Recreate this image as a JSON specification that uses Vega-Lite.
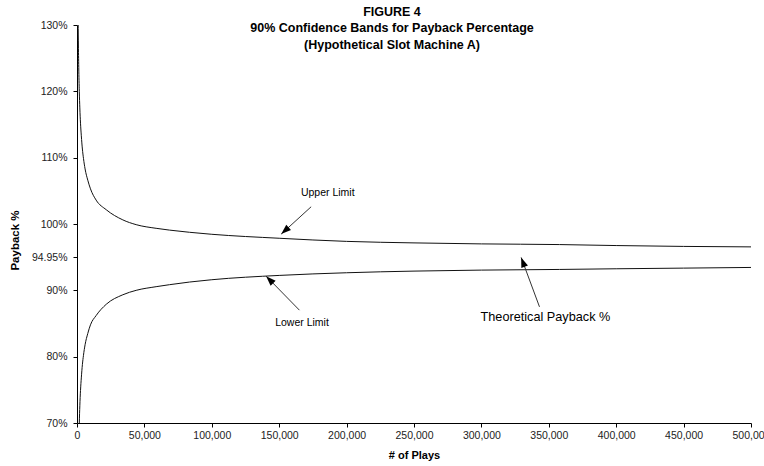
{
  "$schema": "https://vega.github.io/schema/vega-lite/v6.json",
  "autosize": {"type": "none"},
  "width": 674,
  "height": 398,
  "padding": {"left": 77, "top": 25, "right": 13, "bottom": 43},
  "background": "white",
  "title": {
    "text": ["FIGURE 4", "90% Confidence Bands for Payback Percentage", "(Hypothetical Slot Machine A)"],
    "anchor": "middle",
    "frame": "group",
    "dx": -22,
    "font": "Liberation Sans",
    "fontSize": 12.5,
    "fontWeight": "bold",
    "color": "black",
    "lineHeight": 16.5,
    "baseline": "alphabetic",
    "offset": -41
  },
  "datasets": {
    "curves": [
      {"n": 800, "upper": 131.5, "lower": 58.5},
      {"n": 1000, "upper": 127.6, "lower": 62.5},
      {"n": 1300, "upper": 123.6, "lower": 66.5},
      {"n": 1700, "upper": 120.0, "lower": 70.0},
      {"n": 2100, "upper": 117.5, "lower": 72.6},
      {"n": 2600, "upper": 115.2, "lower": 74.9},
      {"n": 3200, "upper": 113.3, "lower": 76.8},
      {"n": 4000, "upper": 111.3, "lower": 78.8},
      {"n": 4800, "upper": 109.9, "lower": 80.2},
      {"n": 6000, "upper": 108.3, "lower": 81.8},
      {"n": 8000, "upper": 106.6, "lower": 83.5},
      {"n": 10000, "upper": 105.3, "lower": 84.8},
      {"n": 14200, "upper": 103.6, "lower": 86.2},
      {"n": 21700, "upper": 102.15, "lower": 87.9},
      {"n": 34000, "upper": 100.62, "lower": 89.33},
      {"n": 43900, "upper": 99.9, "lower": 90.0},
      {"n": 58700, "upper": 99.35, "lower": 90.55},
      {"n": 68600, "upper": 99.08, "lower": 90.85},
      {"n": 83500, "upper": 98.75, "lower": 91.25},
      {"n": 100000, "upper": 98.45, "lower": 91.6},
      {"n": 150000, "upper": 97.85, "lower": 92.25},
      {"n": 200000, "upper": 97.38, "lower": 92.65},
      {"n": 250000, "upper": 97.15, "lower": 92.9},
      {"n": 300000, "upper": 97.0, "lower": 93.05},
      {"n": 358000, "upper": 96.9, "lower": 93.15},
      {"n": 400000, "upper": 96.75, "lower": 93.25},
      {"n": 450000, "upper": 96.62, "lower": 93.35},
      {"n": 500000, "upper": 96.55, "lower": 93.45}
    ],
    "labels": [
      {"n": 186000, "v": 104.66, "label": "Upper Limit"},
      {"n": 166900, "v": 85.13, "label": "Lower Limit"}
    ],
    "arrows": [
      {"n": 173700, "v": 102.6, "n2": 151500, "v2": 98.48},
      {"n": 165000, "v": 87.01, "n2": 140300, "v2": 92.14},
      {"n": 343100, "v": 87.51, "n2": 329500, "v2": 94.96}
    ]
  },
  "layer": [
    {
      "data": {"name": "curves"},
      "mark": {"type": "line", "color": "#111111", "strokeWidth": 1, "clip": true, "interpolate": "monotone"},
      "encoding": {
        "x": {
          "field": "n",
          "type": "quantitative",
          "scale": {"domain": [0, 500000], "nice": false, "zero": false},
          "axis": {
            "values": [0, 50000, 100000, 150000, 200000, 250000, 300000, 350000, 400000, 450000, 500000],
            "labelExpr": "format(datum.value, ',d')",
            "title": "# of Plays",
            "titleFont": "Liberation Sans",
            "titleFontSize": 11,
            "titleFontWeight": "bold",
            "titleColor": "black",
            "titleY": 32,
            "titleBaseline": "middle",
            "labelFont": "Liberation Sans",
            "labelFontSize": 10.5,
            "labelColor": "#222222",
            "labelPadding": 3,
            "labelFlush": false,
            "labelOverlap": false,
            "tickSize": 4,
            "tickColor": "black",
            "domainColor": "black",
            "grid": false
          }
        },
        "y": {
          "field": "upper",
          "type": "quantitative",
          "scale": {"domain": [70, 130], "nice": false, "zero": false},
          "axis": {
            "values": [70, 80, 90, 94.95, 100, 110, 120, 130],
            "labelExpr": "datum.value == 94.95 ? '94.95%' : format(datum.value, 'd') + '%'",
            "title": "Payback %",
            "titleFont": "Liberation Sans",
            "titleFontSize": 11.5,
            "titleFontWeight": "bold",
            "titleColor": "black",
            "titleAngle": -90,
            "titleX": -62,
            "titleY": 215,
            "titleAlign": "center",
            "titleBaseline": "middle",
            "labelFont": "Liberation Sans",
            "labelFontSize": 10.5,
            "labelColor": "#222222",
            "labelPadding": 6,
            "labelOverlap": false,
            "tickSize": 4,
            "tickColor": "black",
            "domainColor": "black",
            "grid": false
          }
        }
      }
    },
    {
      "data": {"name": "curves"},
      "mark": {"type": "line", "color": "#111111", "strokeWidth": 1, "clip": true, "interpolate": "monotone"},
      "encoding": {
        "x": {"field": "n", "type": "quantitative"},
        "y": {"field": "lower", "type": "quantitative"}
      }
    },
    {
      "mark": {"type": "rule", "color": "#555555", "strokeWidth": 1.3},
      "encoding": {"y": {"datum": 94.95}}
    },
    {
      "data": {"name": "arrows"},
      "mark": {"type": "rule", "color": "#333333", "strokeWidth": 1},
      "encoding": {
        "x": {"field": "n", "type": "quantitative"},
        "y": {"field": "v", "type": "quantitative"},
        "x2": {"field": "n2"},
        "y2": {"field": "v2"}
      }
    },
    {
      "data": {"values": [{"n": 151500, "v": 98.48}]},
      "mark": {"type": "point", "shape": "M0,0L0.35,1L-0.35,1Z", "size": 400, "angle": 227.7, "filled": true, "color": "black", "opacity": 1, "strokeWidth": 0},
      "encoding": {"x": {"field": "n", "type": "quantitative"}, "y": {"field": "v", "type": "quantitative"}}
    },
    {
      "data": {"values": [{"n": 140300, "v": 92.14}]},
      "mark": {"type": "point", "shape": "M0,0L0.35,1L-0.35,1Z", "size": 400, "angle": 315.6, "filled": true, "color": "black", "opacity": 1, "strokeWidth": 0},
      "encoding": {"x": {"field": "n", "type": "quantitative"}, "y": {"field": "v", "type": "quantitative"}}
    },
    {
      "data": {"values": [{"n": 329500, "v": 94.96}]},
      "mark": {"type": "point", "shape": "M0,0L0.35,1L-0.35,1Z", "size": 400, "angle": 339.7, "filled": true, "color": "black", "opacity": 1, "strokeWidth": 0},
      "encoding": {"x": {"field": "n", "type": "quantitative"}, "y": {"field": "v", "type": "quantitative"}}
    },
    {
      "data": {"name": "labels"},
      "mark": {"type": "text", "font": "Liberation Sans", "fontSize": 10.5, "color": "black", "align": "center", "baseline": "middle"},
      "encoding": {
        "x": {"field": "n", "type": "quantitative"},
        "y": {"field": "v", "type": "quantitative"},
        "text": {"field": "label"}
      }
    },
    {
      "data": {"values": [{"n": 347500, "v": 86.03, "label": "Theoretical Payback %"}]},
      "mark": {"type": "text", "font": "Liberation Sans", "fontSize": 12.7, "color": "black", "align": "center", "baseline": "middle"},
      "encoding": {
        "x": {"field": "n", "type": "quantitative"},
        "y": {"field": "v", "type": "quantitative"},
        "text": {"field": "label"}
      }
    }
  ],
  "config": {
    "view": {"stroke": null}
  }
}
